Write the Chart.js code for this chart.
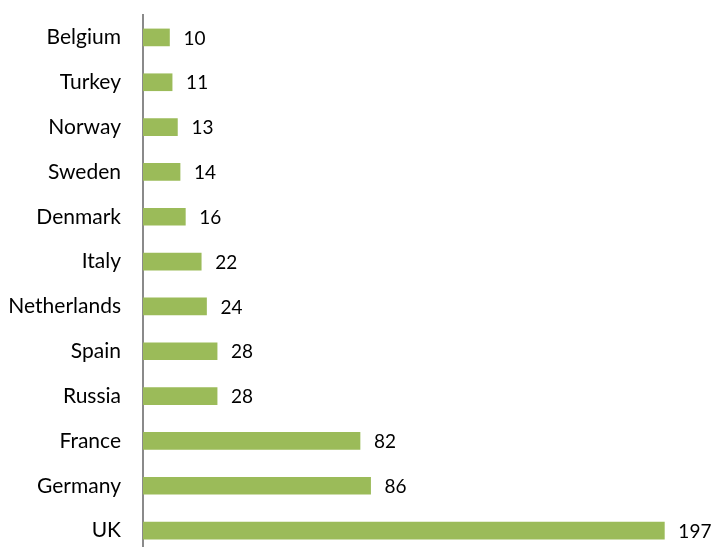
<!DOCTYPE html>
<html>
<head>
<meta charset="utf-8">
<script src="https://cdn.jsdelivr.net/npm/chart.js@4/dist/chart.umd.min.js"></script>
<style>
  html, body { margin: 0; padding: 0; background: #fff; }
  #wrap { width: 712px; height: 547px; overflow: hidden; }
</style>
</head>
<body>
<div id="wrap"><canvas id="c" width="712" height="553"></canvas></div>
<script>
const countries = ['Belgium', 'Turkey', 'Norway', 'Sweden', 'Denmark', 'Italy', 'Netherlands', 'Spain', 'Russia', 'France', 'Germany', 'UK'];
const values = [10, 11, 13, 14, 16, 22, 24, 28, 28, 82, 86, 197];

const FONT = 'Lato, "Open Sans", sans-serif';

// values to the right of every bar
const valueLabels = {
  id: 'valueLabels',
  afterDatasetsDraw(chart) {
    let ctx = chart.ctx;
    ctx.save();
    ctx.font = '19px ' + FONT;
    ctx.fillStyle = '#000';
    ctx.textBaseline = 'middle';
    chart.getDatasetMeta(0).data.forEach((bar, i) => {
      ctx.fillText(values[i], bar.x + 14, bar.y + 1);
    });
    ctx.restore();
  }
};

new Chart('c', {
  type: 'bar',
  data: {
    labels: countries,
    datasets: [{
      data: values,
      backgroundColor: '#9bbb59',
      barThickness: 17
    }]
  },
  options: {
    indexAxis: 'y',
    responsive: false,
    animation: false,
    layout: { padding: { top: 15, bottom: 0, left: 0, right: 0 } },
    plugins: { legend: { display: false }, tooltip: { enabled: false } },
    scales: {
      x: { display: false, min: 0, max: 215 },
      y: {
        grid: { display: false, drawTicks: false },
        border: { display: true, color: '#8a8a8a', width: 2 },
        ticks: { color: '#000', padding: 22, font: { family: FONT, size: 21 } },
        afterFit: (scale) => {
          scale.width = 143;
          // no extra room above/below for the first and last label
          scale.paddingTop = 0;
          scale.paddingBottom = 0;
        }
      }
    }
  },
  plugins: [valueLabels]
});
</script>
</body>
</html>
